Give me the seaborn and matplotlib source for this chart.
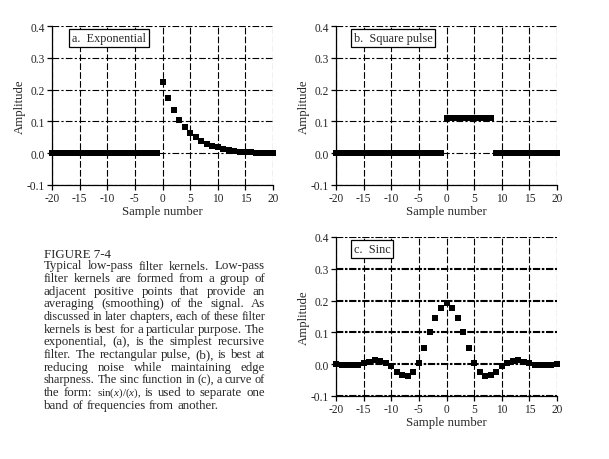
import numpy as np
import pandas as pd
import seaborn as sns
import matplotlib.pyplot as plt

# sample index shared by all three kernels
sample = list(range(-20, 21))

exponential = [0.0] * 20 + [0.223, 0.173, 0.135, 0.104, 0.082, 0.062, 0.050, 0.037,
                            0.028, 0.023, 0.019, 0.012, 0.010, 0.008, 0.005, 0.004,
                            0.003, 0.002, 0.002, 0.001, 0.000]

square_pulse = [0.0] * 20 + [0.111] * 9 + [0.0] * 12

sinc = [0.000, -0.003, -0.003, -0.003, -0.003, 0.003, 0.008, 0.013, 0.011, 0.005,
        -0.007, -0.023, -0.034, -0.036, -0.023, 0.005, 0.050, 0.100, 0.146, 0.178,
        0.193,
        0.178, 0.146, 0.100, 0.050, 0.005, -0.023, -0.036, -0.034, -0.023, -0.007,
        0.005, 0.011, 0.013, 0.008, 0.003, -0.003, -0.003, -0.003, -0.003, 0.000]

panel_labels = ['a.  Exponential', 'b.  Square pulse', 'c.  Sinc']
x_ticks = [-20, -15, -10, -5, 0, 5, 10, 15, 20]
y_ticks = [-0.1, 0.0, 0.1, 0.2, 0.3, 0.4]

caption = [
    "Typical low-pass filter kernels.  Low-pass",
    "filter kernels are formed from a group of",
    "adjacent positive points that provide an",
    "averaging (smoothing) of the signal.  As",
    "discussed in later chapters, each of these filter",
    "kernels is best for a particular purpose.  The",
    "exponential, (a), is the simplest recursive",
    "filter.  The rectangular pulse, (b), is best at",
    "reducing noise while maintaining edge",
    "sharpness.  The sinc function in (c), a curve of",
    "the form:  sin(x)/(x), is used to separate one",
    "band of frequencies from another.",
]

sns.set_theme(style="white")
plt.rcParams['font.family'] = ['Liberation Serif', 'DejaVu Serif']
plt.rcParams['mathtext.fontset'] = 'custom'
plt.rcParams['mathtext.rm'] = 'Liberation Serif'
plt.rcParams['mathtext.it'] = 'Liberation Serif:italic'

fig = plt.figure(figsize=(6.09, 4.60), dpi=100)
fig.patch.set_facecolor('white')

W, H = 609, 460
def box(left, top, right, bottom):
    return [left / W, 1 - bottom / H, (right - left) / W, (bottom - top) / H]

ax_a = fig.add_axes(box(52, 27, 273, 186))
ax_b = fig.add_axes(box(336, 27, 557, 186))
ax_c = fig.add_axes(box(336, 238, 557, 397))

data = pd.DataFrame({'Sample number': sample, 'a': exponential,
                     'b': square_pulse, 'c': sinc})


def style_panel(ax, label, label_x, thick_h=False):
    ax.set_xlim(-20, 20)
    ax.set_ylim(-0.1, 0.4)
    ax.set_xticks(x_ticks)
    ax.set_yticks(y_ticks)
    ax.set_xticklabels([str(t) for t in x_ticks])
    ax.set_yticklabels(['%.1f' % t for t in y_ticks])
    ax.set_facecolor('white')
    for s in ['top', 'right']:
        ax.spines[s].set_visible(False)
    for s in ['left', 'bottom']:
        ax.spines[s].set_color('black')
        ax.spines[s].set_linewidth(0.9)
    ax.tick_params(direction='out', length=3.5, width=0.9, color='black',
                   labelsize=8.3, pad=1.5, left=True, bottom=True)
    ax.xaxis.grid(True, color='black', lw=0.8, linestyle=(0, (6, 2)))
    if thick_h:
        ax.yaxis.grid(True, color='black', lw=1.5, linestyle=(0, (3.5, 0.8, 1.2, 0.8)))
    else:
        ax.yaxis.grid(True, color='black', lw=0.8, linestyle=(0, (6, 2, 2, 2)))
    ax.set_axisbelow(True)
    ax.set_xlabel('Sample number', fontsize=9.2, labelpad=1)
    ax.set_ylabel('Amplitude', fontsize=9.2, labelpad=1)
    ax.text(label_x, 0.925, label, transform=ax.transAxes, fontsize=8.8,
            va='center', ha='left', zorder=5,
            bbox=dict(boxstyle='square,pad=0.22', fc='white', ec='black', lw=0.9))


for ax, col, lab, lx, thick in [(ax_a, 'a', panel_labels[0], 0.09, False),
                                (ax_b, 'b', panel_labels[1], 0.08, False),
                                (ax_c, 'c', panel_labels[2], 0.08, True)]:
    sns.scatterplot(data=data, x='Sample number', y=col, ax=ax, marker='s',
                    color='black', s=16, linewidth=0, zorder=4, clip_on=False)
    style_panel(ax, lab, lx, thick)

# caption block, justified word by word
body_size = 9.3
fig.text(44 / W, 1 - 257.5 / H, 'FIGURE 7-4', fontsize=body_size, ha='left',
         va='baseline')
fig.canvas.draw()
renderer = fig.canvas.get_renderer()
left_px, right_px = 44, 265


def word_widths(words, size):
    out = []
    for w in words:
        if w.startswith('sin('):
            t = fig.text(0, 0, r'sin($x$)/($x$),', fontsize=size * 0.85)
        else:
            t = fig.text(0, 0, w, fontsize=size)
        out.append(t.get_window_extent(renderer).width)
        t.remove()
    return out


for i, line in enumerate(caption):
    y = 1 - (269.5 + i * 12.66) / H
    words = line.split()
    size = body_size
    widths = word_widths(words, size)
    space = 0.25 * size * 100 / 72
    # shrink crowded lines so they still fit the column
    while sum(widths) + 0.8 * space * (len(words) - 1) > right_px - left_px:
        size -= 0.1
        space = 0.25 * size * 100 / 72
        widths = word_widths(words, size)
    if i == len(caption) - 1:
        gap = space
    else:
        gap = (right_px - left_px - sum(widths)) / max(len(words) - 1, 1)
    x = left_px
    for w, wd in zip(words, widths):
        if w.startswith('sin('):
            fig.text(x / W, y, r'sin($x$)/($x$),', fontsize=size * 0.85, va='baseline')
        else:
            fig.text(x / W, y, w, fontsize=size, va='baseline')
        x += wd + gap

fig.savefig('out.png', dpi=100, facecolor='white')
